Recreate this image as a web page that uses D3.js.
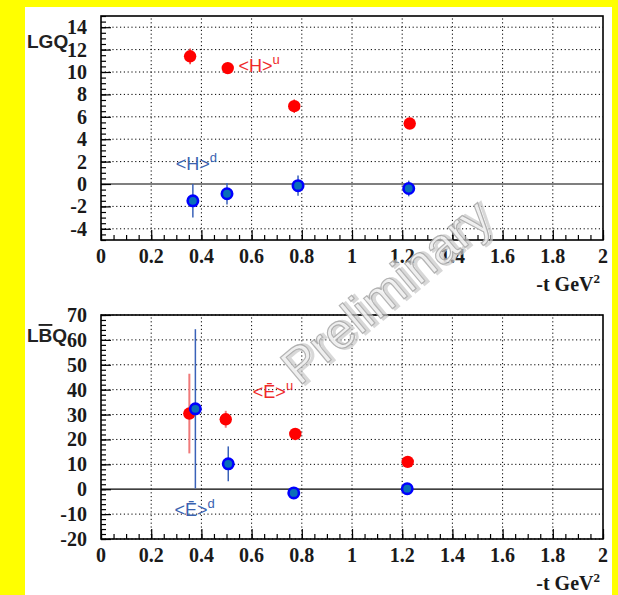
<!DOCTYPE html>
<html>
<head>
<meta charset="utf-8">
<script src="https://cdn.jsdelivr.net/npm/d3@7"></script>
<style>
  body { margin: 0; background: #ffff00; }
  svg { display: block; }
</style>
</head>
<body>
<div id="plot"></div>
<script>
// upper panel: <H>^u and <H>^d
const tHu = [0.355, 0.505, 0.77, 1.23];
const Hu = [11.4, 10.35, 6.95, 5.4];
const HuErr = [0.7, 0.5, 0.6, 0.4];
const tHd = [0.366, 0.502, 0.785, 1.226];
const Hd = [-1.5, -0.87, -0.15, -0.4];
const HdErr = [1.5, 0.95, 0.9, 0.7];

// lower panel: <Ebar>^u and <Ebar>^d
const tEu = [0.352, 0.497, 0.774, 1.222];
const Eu = [30.4, 28.1, 22.2, 11.0];
const EuErr = [16, 3.4, 2, 1.5];
const tEd = [0.376, 0.507, 0.768, 1.22];
const Ed = [32.3, 10.2, -1.5, 0.2];
const EdErr = [32, 7, 2, 1.5];

const xTicks = [0, 0.2, 0.4, 0.6, 0.8, 1, 1.2, 1.4, 1.6, 1.8, 2];
const yTicksTop = [-4, -2, 0, 2, 4, 6, 8, 10, 12, 14];
const yTicksBot = [-20, -10, 0, 10, 20, 30, 40, 50, 60, 70];

const W = 618, H = 595;
const svg = d3.select("#plot").append("svg")
    .attr("width", W)
    .attr("height", H);

svg.append("rect").attr("x", 25).attr("y", 7).attr("width", 587).attr("height", H - 7).attr("fill", "#fff");

const x = d3.scaleLinear().domain([0, 2]).range([101, 603]);

function panel(opts) {
  const y = d3.scaleLinear().domain(opts.domain).range(opts.range);
  const g = svg.append("g");
  const [x0, x1] = x.range();
  const [yb, yt] = y.range();

  // dotted grid
  g.selectAll(".vg").data(xTicks.slice(1, -1)).enter().append("line")
    .attr("x1", d => x(d)).attr("x2", d => x(d)).attr("y1", yb).attr("y2", yt)
    .attr("stroke", "#000").attr("stroke-width", 1).attr("stroke-dasharray", "1.2,2.6");
  g.selectAll(".hg").data(opts.ticks.filter(d => d !== 0)).enter().append("line")
    .attr("x1", x0).attr("x2", x1).attr("y1", d => y(d)).attr("y2", d => y(d))
    .attr("stroke", "#000").attr("stroke-width", 1).attr("stroke-dasharray", "1.2,2.6");

  // zero line
  g.append("line").attr("x1", x0).attr("x2", x1).attr("y1", y(0)).attr("y2", y(0))
    .attr("stroke", "#000").attr("stroke-width", 1.2);

  // frame
  g.append("rect").attr("x", x0).attr("y", yt).attr("width", x1 - x0).attr("height", yb - yt)
    .attr("fill", "none").attr("stroke", "#000").attr("stroke-width", 1.6);

  // axes with inward ticks
  const fmt = d => String(d);
  const xMinor = d3.range(0, 2.0001, 0.05).map(v => +v.toFixed(2));
  g.append("g").attr("transform", `translate(0,${yb})`)
    .call(d3.axisTop(x).tickValues(xMinor).tickSize(5).tickFormat(""))
    .call(a => a.select(".domain").remove());
  g.append("g").attr("transform", `translate(0,${yb})`)
    .call(d3.axisTop(x).tickValues(xTicks).tickSize(10).tickFormat(""))
    .call(a => a.select(".domain").remove());
  g.append("g").selectAll("text").data(xTicks).enter().append("text")
    .attr("x", d => x(d)).attr("y", yb + 23)
    .attr("text-anchor", "middle")
    .attr("font-family", "Liberation Serif").attr("font-weight", "bold").attr("font-size", 20)
    .attr("fill", "#1a1a1a")
    .text(fmt);

  const yMinor = d3.range(opts.domain[0], opts.domain[1] + 1e-6, opts.minor);
  g.append("g").attr("transform", `translate(${x0},0)`)
    .call(d3.axisRight(y).tickValues(yMinor).tickSize(5).tickFormat(""))
    .call(a => a.select(".domain").remove());
  g.append("g").attr("transform", `translate(${x0},0)`)
    .call(d3.axisRight(y).tickValues(opts.ticks).tickSize(10).tickFormat(""))
    .call(a => a.select(".domain").remove());
  g.append("g").selectAll("text").data(opts.ticks).enter().append("text")
    .attr("x", x0 - 14).attr("y", d => y(d) + 7)
    .attr("text-anchor", "end")
    .attr("font-family", "Liberation Serif").attr("font-weight", "bold").attr("font-size", 20)
    .attr("fill", "#1a1a1a")
    .text(fmt);
  g.selectAll(".tick line").attr("stroke", "#000").attr("stroke-width", 1.2);

  // x axis title
  const xt = g.append("text").attr("x", 600).attr("y", yb + 51).attr("text-anchor", "end")
    .attr("font-family", "Liberation Serif").attr("font-weight", "bold").attr("font-size", 20)
    .attr("fill", "#1a1a1a");
  xt.append("tspan").text("-t GeV");
  xt.append("tspan").attr("dy", -8).attr("font-size", 13).text("2");

  return { g, y };
}

function points(p, ts, vals, errs, style) {
  const d = ts.map((t, i) => ({ t, v: vals[i], e: errs[i] }));
  p.g.selectAll(null).data(d).enter().append("line")
    .attr("x1", d => x(d.t)).attr("x2", d => x(d.t))
    .attr("y1", d => p.y(d.v - d.e)).attr("y2", d => p.y(d.v + d.e))
    .attr("stroke", style.bar).attr("stroke-width", style.barW);
  p.g.selectAll(null).data(d).enter().append("circle")
    .attr("cx", d => x(d.t)).attr("cy", d => p.y(d.v))
    .attr("r", style.r)
    .attr("fill", style.fill).attr("stroke", style.stroke).attr("stroke-width", style.sw);
}

function label(p, t, v, main, sup, color) {
  const tx = p.g.append("text").attr("x", x(t)).attr("y", p.y(v))
    .attr("font-family", "Liberation Sans").attr("font-size", 18).attr("fill", color);
  tx.append("tspan").text(main);
  tx.append("tspan").attr("dy", -8).attr("font-size", 13).text(sup);
}

const red = { bar: "#f03030", barW: 1.5, r: 6.2, fill: "#ff0000", stroke: "none", sw: 0 };
const redLow = Object.assign({}, red, { bar: "#f07a7a", barW: 2 });
const blue = { bar: "#3a62b8", barW: 1.5, r: 5.2, fill: "#0a6fb8", stroke: "#0000ff", sw: 2.6 };

// upper panel
const pTop = panel({ domain: [-5, 15], range: [240, 16], ticks: yTicksTop, minor: 0.5 });
points(pTop, tHu, Hu, HuErr, red);
points(pTop, tHd, Hd, HdErr, blue);
label(pTop, 0.548, 10.0, "<H>", "u", "#ee2a2a");
label(pTop, 0.298, 1.25, "<H>", "d", "#3a62b0");

// lower panel
const pBot = panel({ domain: [-20, 70], range: [539, 315], ticks: yTicksBot, minor: 2 });
points(pBot, tEu, Eu, EuErr, redLow);
points(pBot, tEd, Ed, EdErr, blue);
label(pBot, 0.605, 36.6, "<\u0112>", "u", "#ee2a2a");
label(pBot, 0.293, -10.7, "<\u0112>", "d", "#3a62b0");

// y axis titles
svg.append("text").attr("x", 27).attr("y", 48)
  .attr("font-family", "Liberation Sans").attr("font-weight", "bold").attr("font-size", 19)
  .attr("fill", "#222").text("LGQ");
const lb = svg.append("text").attr("x", 27).attr("y", 342)
  .attr("font-family", "Liberation Sans").attr("font-weight", "bold").attr("font-size", 19)
  .attr("fill", "#222");
lb.append("tspan").text("L");
lb.append("tspan").attr("text-decoration", "overline").text("B");
lb.append("tspan").text("Q");

// watermark
const wm = svg.append("g").attr("transform", "translate(386,291) rotate(-40)");
wm.append("text").attr("x", 2).attr("y", 2).attr("text-anchor", "middle").attr("dy", "0.35em")
  .attr("font-family", "Liberation Sans").attr("font-size", 50).attr("letter-spacing", 0.5)
  .attr("fill", "none").attr("stroke", "#c8c8c8").attr("stroke-width", 3).attr("opacity", 0.7)
  .text("Preliminary");
wm.append("text").attr("text-anchor", "middle").attr("dy", "0.35em")
  .attr("font-family", "Liberation Sans").attr("font-size", 50).attr("letter-spacing", 0.5)
  .attr("fill", "#f4f4f4").attr("stroke", "#a8a8a8").attr("stroke-width", 1.2).attr("opacity", 0.85)
  .text("Preliminary");
</script>
</body>
</html>
